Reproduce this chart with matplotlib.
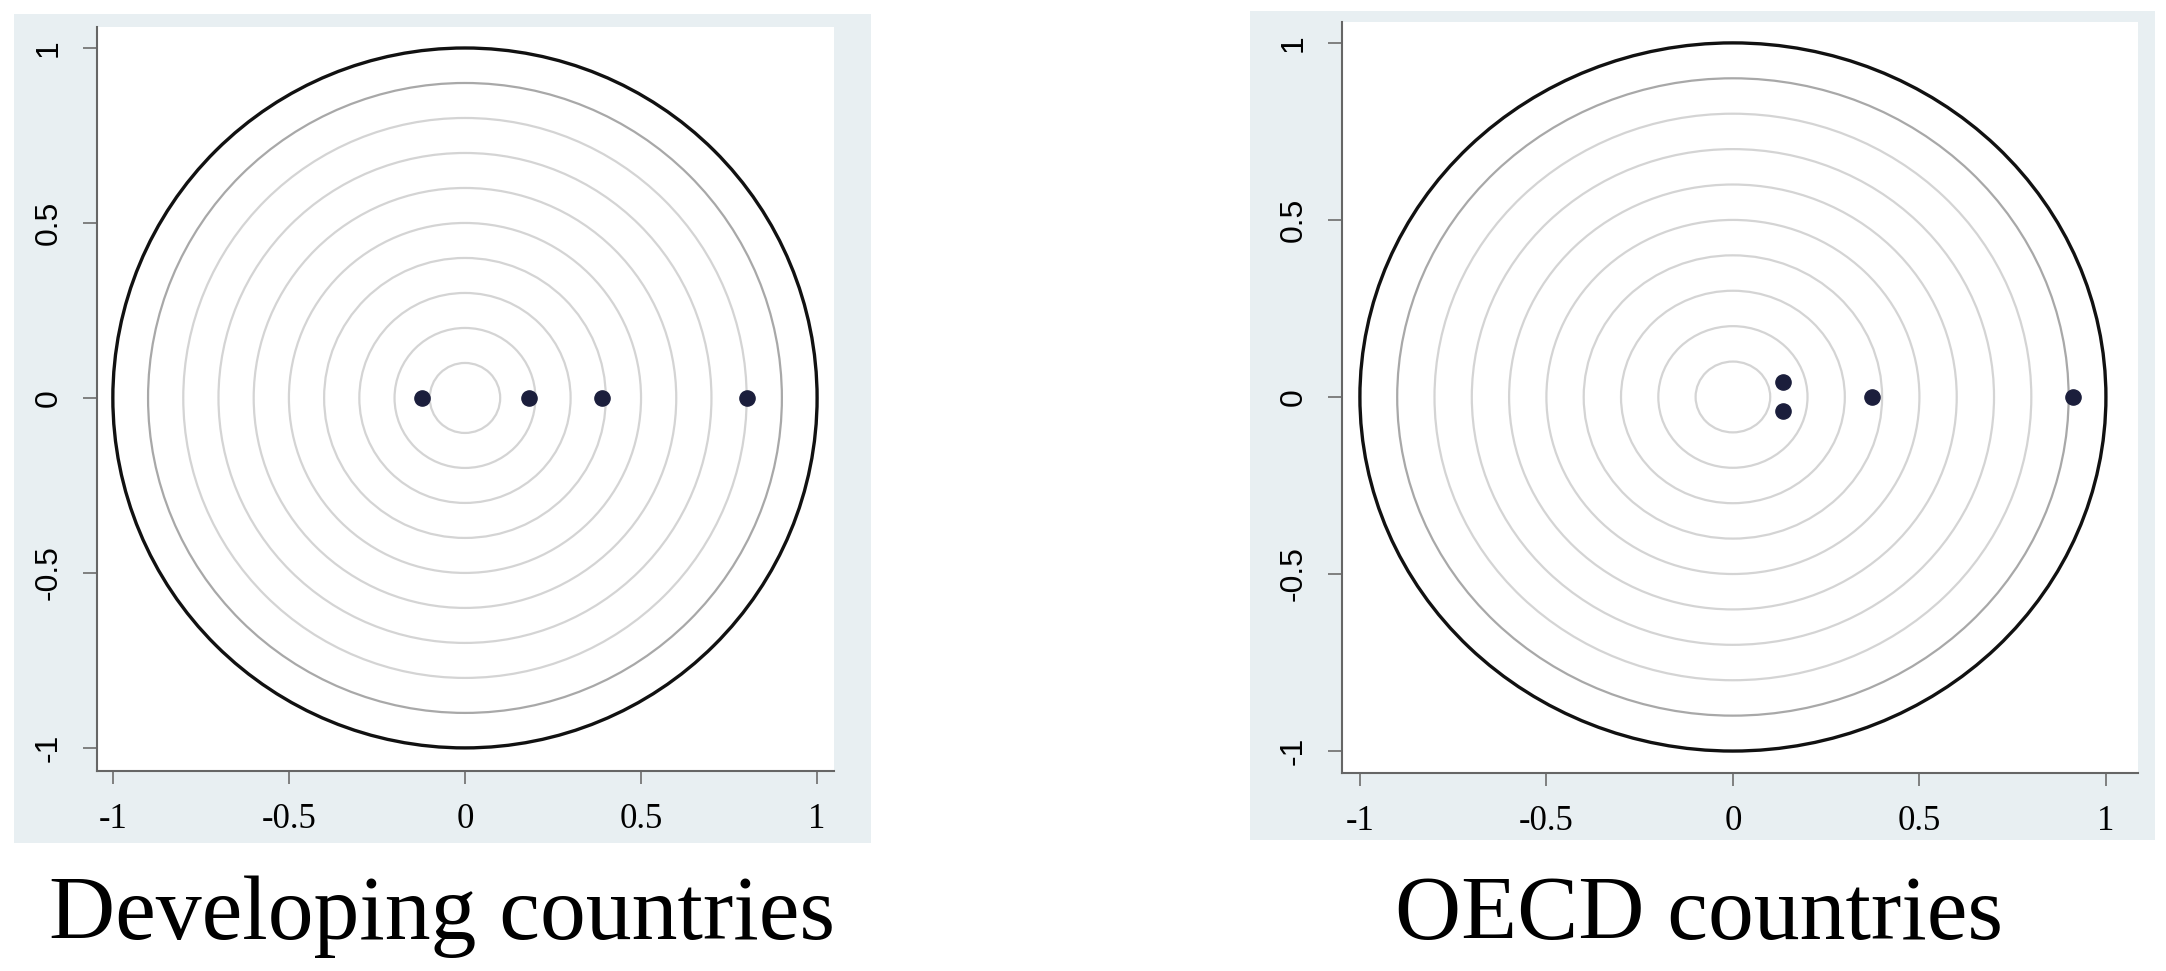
import matplotlib
matplotlib.use("Agg")
import matplotlib.pyplot as plt
from matplotlib.patches import Circle, Rectangle

# Data: points on the unit circle plot for each group
dev_x = [-0.123, 0.182, 0.388, 0.80]
dev_y = [0.0, 0.0, 0.0, 0.0]
oecd_x = [0.135, 0.135, 0.372, 0.912]
oecd_y = [0.043, -0.040, 0.0, 0.0]

ring_radii = [0.1, 0.2, 0.3, 0.4, 0.5, 0.6, 0.7, 0.8, 0.9]
ticks = [-1, -0.5, 0, 0.5, 1]
tick_labels = ["-1", "-0.5", "0", "0.5", "1"]

titles = ["Developing countries", "OECD countries"]

W, H = 2166, 971
fig = plt.figure(figsize=(W / 100, H / 100), dpi=100)
fig.patch.set_facecolor("white")

bg_color = "#e8eff2"


def px_rect(x0, y0, x1, y1):
    # pixel box (top-left origin) -> figure fraction rect
    return [x0 / W, 1 - y1 / H, (x1 - x0) / W, (y1 - y0) / H]


def draw_panel(bg_box, ax_box, xlim, ylim, xs, ys, title, title_x):
    fig.patches.append(Rectangle((bg_box[0], bg_box[1]), bg_box[2], bg_box[3],
                                 transform=fig.transFigure, facecolor=bg_color,
                                 edgecolor="none", zorder=-10))
    ax = fig.add_axes(ax_box)
    ax.set_zorder(1)
    ax.set_facecolor("white")
    ax.set_xlim(*xlim)
    ax.set_ylim(*ylim)

    for r in ring_radii:
        col = "#a8a8a8" if r == 0.9 else "#d4d4d4"
        ax.add_patch(Circle((0, 0), r, fill=False, edgecolor=col, linewidth=1.6))
    ax.add_patch(Circle((0, 0), 1.0, fill=False, edgecolor="#111111", linewidth=2.4))

    ax.scatter(xs, ys, s=120, color="#1b1e3c", zorder=5)

    for s in ["top", "right"]:
        ax.spines[s].set_visible(False)
    for s in ["left", "bottom"]:
        ax.spines[s].set_color("#666666")
        ax.spines[s].set_linewidth(1.5)

    ax.set_xticks(ticks)
    ax.set_xticklabels(tick_labels, fontfamily="Liberation Serif", fontsize=25)
    ax.set_yticks(ticks)
    ax.set_yticklabels(tick_labels, fontfamily="Liberation Sans", fontsize=23,
                       rotation=90, va="center")
    ax.tick_params(axis="x", length=9, width=1.3, color="#777777", pad=14)
    ax.tick_params(axis="y", length=10, width=1.3, color="#777777", pad=14)

    fig.text(title_x, 1 - 917 / H, title, ha="center", va="center",
             fontfamily="Liberation Serif", fontsize=66)
    return ax


draw_panel(px_rect(14, 14, 871, 843), px_rect(97, 27, 834, 771),
           (-1.045, 1.048), (-1.066, 1.06), dev_x, dev_y, titles[0], 442 / W)
draw_panel(px_rect(1250, 11, 2155, 840), px_rect(1342, 22, 2138, 773),
           (-1.048, 1.086), (-1.062, 1.059), oecd_x, oecd_y, titles[1], 1699 / W)

fig.savefig("out.png", dpi=100)
